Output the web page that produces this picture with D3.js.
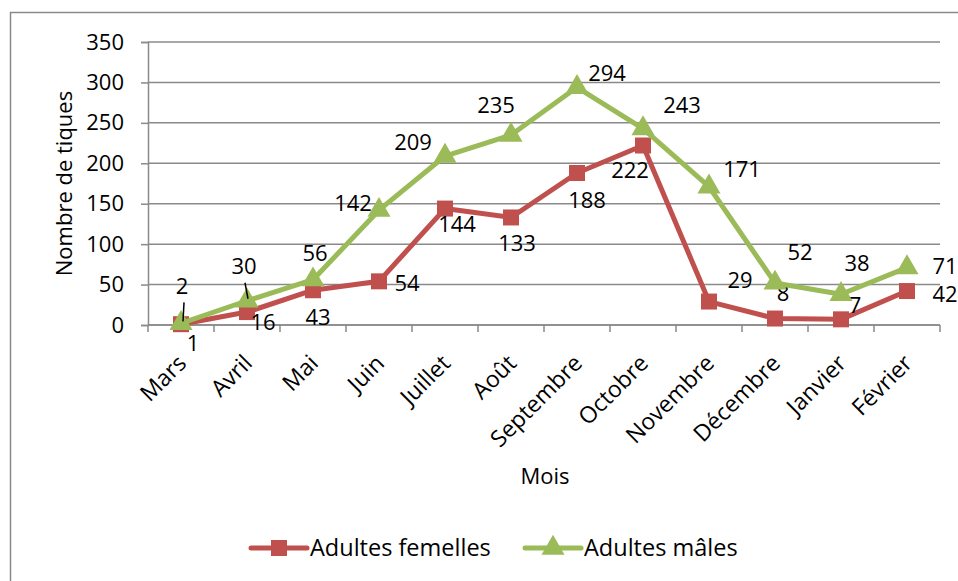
<!DOCTYPE html>
<html>
<head>
<meta charset="utf-8">
<script src="https://cdn.jsdelivr.net/npm/d3@7"></script>
<style>
  body { margin: 0; background: #fff; }
  svg { display: block; font-family: "Open Sans", sans-serif; }
</style>
</head>
<body>
<div id="chart"></div>
<script>
"use strict";

var months = ['Mars', 'Avril', 'Mai', 'Juin', 'Juillet', 'Août', 'Septembre',
    'Octobre', 'Novembre', 'Décembre', 'Janvier', 'Février'];
var femelles = [1, 16, 43, 54, 144, 133, 188, 222, 29, 8, 7, 42];
var males = [2, 30, 56, 142, 209, 235, 294, 243, 171, 52, 38, 71];
var yTicks = [0, 50, 100, 150, 200, 250, 300, 350];

// where each value label sits relative to its point (dx, dy)
var femOffsets = [[12, 19], [16, 10], [5, 27], [28, 2], [12, 16], [6, 26],
    [10, 27], [-13, 25], [31, -21], [8, -25], [14, -14], [38, 3]];
var maleOffsets = [[1, -37], [-3, -34], [2, -26], [-26, -7], [-32, -14], [-15, -30],
    [30, -14], [39, -23], [33, -17], [25, -31], [16, -31], [38, -1]];

var red = '#C0504D';
var green = '#9BBB59';
var grey = '#8a8a8a';
var fs = 22;

var W = 958, H = 581;
var margin = {top: 42, right: 18, bottom: 256, left: 148};
var width = W - margin.left - margin.right;
var height = H - margin.top - margin.bottom;

var svg = d3.select('#chart').append('svg')
    .attr('width', W)
    .attr('height', H);

svg.append('rect')
    .attr('x', 10.5).attr('y', 12.5)
    .attr('width', 960).attr('height', 600)
    .attr('fill', 'none')
    .attr('stroke', grey)
    .attr('stroke-width', 1.5);

var g = svg.append('g')
    .attr('transform', 'translate(' + margin.left + ',' + margin.top + ')');

var x = d3.scaleBand().domain(months).range([0, width]);
var y = d3.scaleLinear().domain([0, 350]).range([height, 0]);
var cx = function (m) { return x(m) + x.bandwidth() / 2; };

// gridlines
g.append('g')
    .selectAll('line')
    .data(yTicks)
    .enter().append('line')
        .attr('x1', 0).attr('x2', width)
        .attr('y1', function (d) { return y(d); })
        .attr('y2', function (d) { return y(d); })
        .attr('stroke', grey)
        .attr('stroke-width', 1.5);

var yAxis = d3.axisLeft(y).tickValues(yTicks).tickSize(7).tickPadding(17);
var yg = g.append('g').call(yAxis);
yg.select('.domain').attr('stroke', grey).attr('stroke-width', 1.5);
yg.selectAll('.tick line').attr('stroke', grey).attr('stroke-width', 1.5);
yg.selectAll('.tick text')
    .attr('font-size', fs)
    .attr('fill', '#000')
    .attr('font-family', '"Open Sans", sans-serif');

// x axis: ticks at band edges
var xg = g.append('g').attr('transform', 'translate(0,' + height + ')');
xg.append('line')
    .attr('x1', 0).attr('x2', width)
    .attr('stroke', grey).attr('stroke-width', 1.5);
xg.selectAll('.edge')
    .data(months.concat(['end']))
    .enter().append('line')
        .attr('class', 'edge')
        .attr('x1', function (d, i) { return i * x.step(); })
        .attr('x2', function (d, i) { return i * x.step(); })
        .attr('y1', 0).attr('y2', 7)
        .attr('stroke', grey).attr('stroke-width', 1.5);
xg.selectAll('.lab')
    .data(months)
    .enter().append('text')
        .attr('class', 'lab')
        .attr('transform', function (d) {
            return 'translate(' + (cx(d) + 1) + ',' + 34 + ') rotate(-45)';
        })
        .attr('text-anchor', 'end')
        .attr('dy', '0.35em')
        .attr('font-size', 23)
        .text(function (d) { return d; });

// axis titles
svg.append('text')
    .attr('transform', 'translate(64,' + (margin.top + height / 2) + ') rotate(-90)')
    .attr('text-anchor', 'middle')
    .attr('dy', '0.35em')
    .attr('font-size', fs)
    .text('Nombre de tiques');

svg.append('text')
    .attr('x', 545).attr('y', 476)
    .attr('text-anchor', 'middle')
    .attr('dy', '0.35em')
    .attr('font-size', fs)
    .text('Mois');

var line = d3.line()
    .x(function (d, i) { return cx(months[i]); })
    .y(function (d) { return y(d); });

function drawSeries(values, color, shape, offsets) {
    g.append('path')
        .datum(values)
        .attr('d', line)
        .attr('fill', 'none')
        .attr('stroke', color)
        .attr('stroke-width', 5)
        .attr('stroke-linejoin', 'round');

    g.selectAll(null)
        .data(values)
        .enter().append('path')
            .attr('d', d3.symbol().type(shape).size(shape === d3.symbolSquare ? 256 : 230))
            .attr('transform', function (d, i) {
                return 'translate(' + cx(months[i]) + ',' + y(d) + ')';
            })
            .attr('fill', color);

    g.selectAll(null)
        .data(values)
        .enter().append('text')
            .attr('x', function (d, i) { return cx(months[i]) + offsets[i][0]; })
            .attr('y', function (d, i) { return y(d) + offsets[i][1]; })
            .attr('dy', '0.35em')
            .attr('text-anchor', 'middle')
            .attr('font-size', fs)
            .text(function (d) { return d; });
}

drawSeries(femelles, red, d3.symbolSquare, femOffsets);
drawSeries(males, green, d3.symbolTriangle, maleOffsets);

// leader lines for the first two male labels
[[0, 2], [1, 1]].forEach(function (l) {
    var px = cx(months[l[0]]);
    var py = y(males[l[0]]);
    g.append('line')
        .attr('x1', px + maleOffsets[l[0]][0] + l[1]).attr('y1', py + maleOffsets[l[0]][1] + 16)
        .attr('x2', px + l[1]).attr('y2', py - 2)
        .attr('stroke', '#000').attr('stroke-width', 1.5);
});

// legend
var legend = svg.append('g').attr('transform', 'translate(0,548)');
[{name: 'Adultes femelles', color: red, shape: d3.symbolSquare, x0: 251},
 {name: 'Adultes mâles', color: green, shape: d3.symbolTriangle, x0: 525}].forEach(function (s) {
    legend.append('line')
        .attr('x1', s.x0).attr('x2', s.x0 + 56)
        .attr('stroke', s.color).attr('stroke-width', 5)
        .attr('stroke-linecap', 'round');
    legend.append('path')
        .attr('d', d3.symbol().type(s.shape).size(s.shape === d3.symbolSquare ? 256 : 230))
        .attr('transform', 'translate(' + (s.x0 + 28) + ',0)')
        .attr('fill', s.color);
    legend.append('text')
        .attr('x', s.x0 + 59)
        .attr('dy', '0.35em')
        .attr('font-size', 23.5)
        .text(s.name);
});
</script>
</body>
</html>
